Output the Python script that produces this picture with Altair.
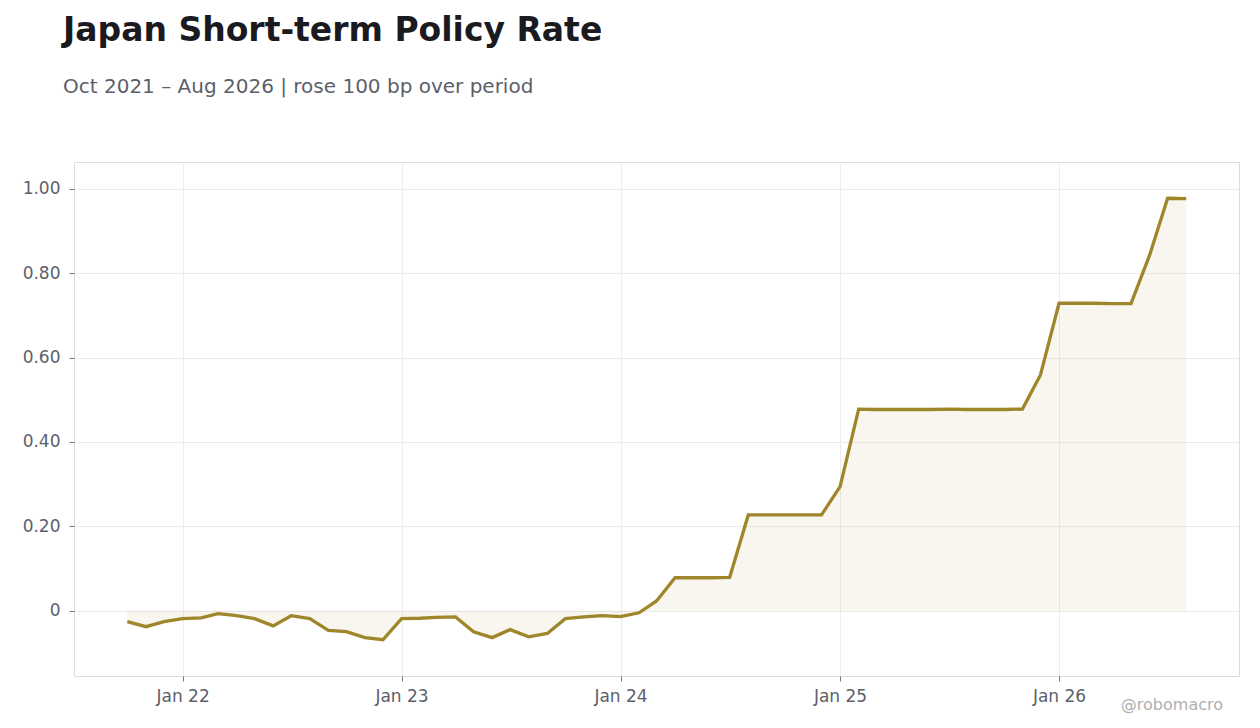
import altair as alt
import pandas as pd

# monthly short-term policy rate, Oct 2021 - Aug 2026 (%)
rates = [
    -0.026, -0.038, -0.026,
    -0.019, -0.017, -0.007, -0.012, -0.019, -0.036, -0.012, -0.019, -0.047, -0.050, -0.064, -0.069,
    -0.019, -0.018, -0.016, -0.015, -0.050, -0.064, -0.045, -0.062, -0.054, -0.019, -0.015, -0.012,
    -0.014, -0.005, 0.023, 0.078, 0.078, 0.078, 0.079, 0.227, 0.227, 0.227, 0.227, 0.227,
    0.294, 0.478, 0.477, 0.477, 0.477, 0.477, 0.478, 0.477, 0.477, 0.477, 0.478, 0.559,
    0.729, 0.729, 0.729, 0.728, 0.728, 0.843, 0.978, 0.977,
]
months = pd.date_range("2021-10-01", periods=len(rates), freq="MS")
year_ticks = ["2022-01-01", "2023-01-01", "2024-01-01", "2025-01-01", "2026-01-01"]
y_ticks = [0, 0.2, 0.4, 0.6, 0.8, 1.0]

df = pd.DataFrame({"date": months, "rate": rates})

LINE = "#a0862a"
LABEL = "#5c5f6a"

x_enc = alt.X(
    "date:T",
    title=None,
    scale=alt.Scale(domain=["2021-07-04", "2026-10-28"]),
    axis=alt.Axis(values=year_ticks, format="Jan %y", labelFontSize=17, labelColor=LABEL,
                  tickColor="#777", tickSize=5, labelPadding=7, domain=False,
                  gridColor="#ececec"),
)
y_enc = alt.Y(
    "rate:Q",
    title=None,
    scale=alt.Scale(domain=[-0.155, 1.064], nice=False, zero=False),
    axis=alt.Axis(values=y_ticks, labelExpr="datum.value == 0 ? '0' : format(datum.value, '.2f')",
                  labelFontSize=17, labelColor=LABEL, tickColor="#777", tickSize=5,
                  labelPadding=9, domain=False, gridColor="#ececec"),
)

area = alt.Chart(df).mark_area(color=LINE, opacity=0.08).encode(
    x=x_enc, y=y_enc, y2=alt.datum(0)
)
line = alt.Chart(df).mark_line(color=LINE, strokeWidth=3.3).encode(x=x_enc, y=y_enc)

credit = alt.Chart(pd.DataFrame({"t": ["@robomacro"]})).mark_text(
    align="right", baseline="middle", fontSize=16, color="#b0b0b0"
).encode(x=alt.value(1149), y=alt.value(543), text="t:N")

chart = (area + line + credit).properties(
    width=1165,
    height=514,
    autosize=alt.AutoSizeParams(type="none"),
    padding={"left": 66, "top": 154, "right": 13, "bottom": 44},
    title=alt.TitleParams(
        "Japan Short-term Policy Rate",
        subtitle="Oct 2021 – Aug 2026 | rose 100 bp over period",
        anchor="start", frame="group", dx=-11, offset=65,
        fontSize=33, fontWeight="bold", color="#1a1a1f", font="DejaVu Sans",
        subtitleFontSize=20, subtitleColor=LABEL, subtitleFont="DejaVu Sans",
        subtitlePadding=29,
    ),
).configure(font="DejaVu Sans").configure_view(stroke="#dcdcdc")

chart.save("out.html", embed_options={"renderer": "svg", "actions": False})
